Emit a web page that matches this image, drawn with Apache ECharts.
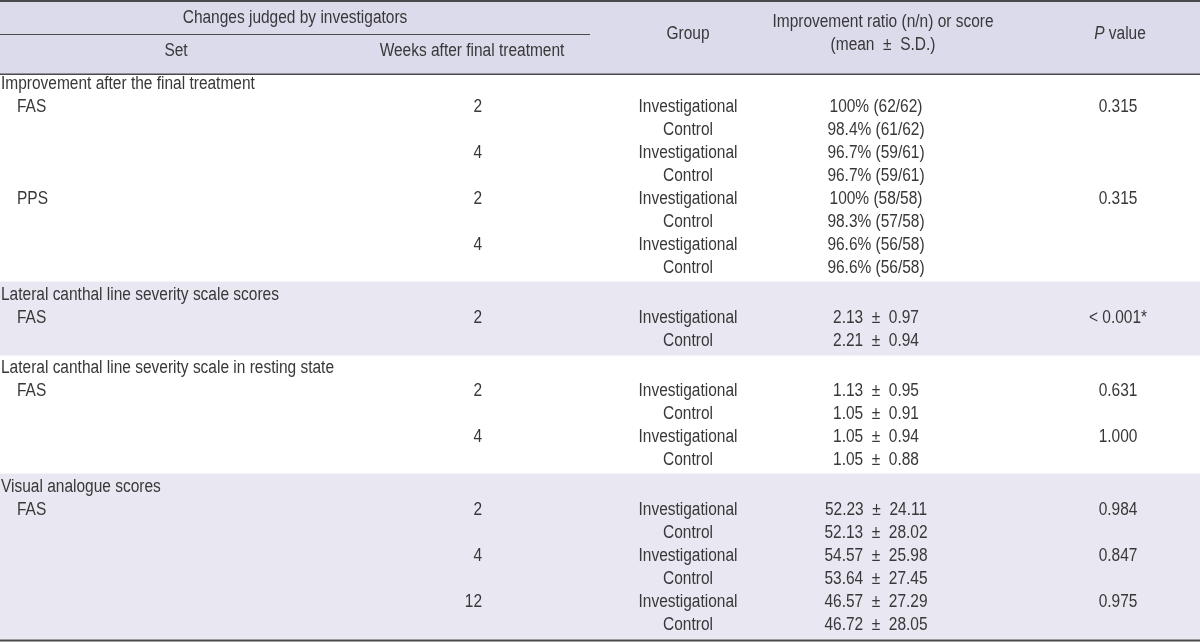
<!DOCTYPE html>
<html>
<head>
<meta charset="utf-8">
<script src="https://cdn.jsdelivr.net/npm/echarts@6/dist/echarts.min.js"></script>
<style>
html,body{margin:0;padding:0;background:#fff;}
#chart{width:1200px;height:643px;}
</style>
</head>
<body>
<div id="chart"></div>
<script>
// ---------- DATA ----------
const headerSpan = "Changes judged by investigators";
const headerCols = ["Set", "Weeks after final treatment", "Group", "Improvement ratio (n/n) or score", "(mean ± S.D.)", "P value"];
const sectionTitles = [
  "Improvement after the final treatment",
  "Lateral canthal line severity scale scores",
  "Lateral canthal line severity scale in resting state",
  "Visual analogue scores"
];
const rowSection = [0,0,0,0,0,0,0,0, 1,1, 2,2,2,2, 3,3,3,3,3,3];
const rowSet     = ["FAS","","","","PPS","","","", "FAS","", "FAS","","","", "FAS","","","","",""];
const rowWeeks   = ["2","","4","","2","","4","", "2","", "2","","4","", "2","","4","","12",""];
const rowGroup   = ["Investigational","Control","Investigational","Control","Investigational","Control","Investigational","Control",
                    "Investigational","Control",
                    "Investigational","Control","Investigational","Control",
                    "Investigational","Control","Investigational","Control","Investigational","Control"];
const rowValue   = ["100% (62/62)","98.4% (61/62)","96.7% (59/61)","96.7% (59/61)",
                    "100% (58/58)","98.3% (57/58)","96.6% (56/58)","96.6% (56/58)",
                    "2.13 ± 0.97","2.21 ± 0.94",
                    "1.13 ± 0.95","1.05 ± 0.91","1.05 ± 0.94","1.05 ± 0.88",
                    "52.23 ± 24.11","52.13 ± 28.02","54.57 ± 25.98","53.64 ± 27.45","46.57 ± 27.29","46.72 ± 28.05"];
const rowP       = ["0.315","","","","0.315","","","",
                    "< 0.001*","",
                    "0.631","","1.000","",
                    "0.984","","0.847","","0.975",""];
const shadedSections = [1, 3];

// ---------- LAYOUT / STYLE ----------
const W = 1200, H = 643;
const FONT_FAMILY = "'Liberation Sans',Arial,sans-serif";
const FONT_SIZE = 18;
const SCALE_X = 0.86;
const TEXT = '#383838';
const HEADER_BG = '#dcdbec';
const BAND_BG = '#e8e7f2';
const RULE = '#4a4a4a';
const COL = { section: 1, set: 17, weeks: 482, group: 688, value: 876, p: 1118 };
const FIRST_Y = 84, STEP = 23, GAP = 4;

// compute row positions
const sectionY = [], rowY = [];
let y = FIRST_Y;
let prevSec = -1;
for (let i = 0; i < rowSection.length; i++) {
  const s = rowSection[i];
  if (s !== prevSec) {
    if (prevSec >= 0) y += STEP + GAP;
    sectionY[s] = y;
    prevSec = s;
  }
  y += STEP;
  rowY[i] = y;
}

// ± drawn with a little extra room, as in the reference typesetting
function fmt(v) { return v.replace(' ± ', '  ±  '); }

// texts
const texts = [];
function addText(x, yy, text, align, rich) { texts.push({ pos: [x, yy], text, align, rich }); }
addText(295, 18, headerSpan, 'center');
addText(176, 51, headerCols[0], 'center');
addText(472, 51, headerCols[1], 'center');
addText(COL.group, 34, headerCols[2], 'center');
addText(883, 22, headerCols[3], 'center');
addText(883, 45, fmt(headerCols[4]), 'center');
addText(COL.p + 2, 34, '{i|' + headerCols[5].charAt(0) + '}' + headerCols[5].slice(1), 'center', true);
sectionTitles.forEach((t, s) => addText(COL.section, sectionY[s], t, 'left'));
for (let i = 0; i < rowSection.length; i++) {
  if (rowSet[i]) addText(COL.set, rowY[i], rowSet[i], 'left');
  if (rowWeeks[i]) addText(COL.weeks, rowY[i], rowWeeks[i], 'right');
  addText(COL.group, rowY[i], rowGroup[i], 'center');
  addText(COL.value, rowY[i], fmt(rowValue[i]), 'center');
  if (rowP[i]) addText(COL.p, rowY[i], rowP[i], 'center');
}

// shapes: [x1,y1,x2,y2,color]
const shapes = [];
shapes.push([0, 0, W, 74, HEADER_BG]);
shadedSections.forEach(s => {
  let last = 0;
  rowSection.forEach((rs, i) => { if (rs === s) last = rowY[i]; });
  shapes.push([0, sectionY[s] - 13.5, W, last + 14.5, BAND_BG]);
});
shapes.push([0, 0, W, 2, RULE]);
shapes.push([0, 34, 590, 35, RULE]);
shapes.push([0, 73.5, W, 75, RULE]);
shapes.push([0, 639.5, W, 641.5, RULE]);

const chart = echarts.init(document.getElementById('chart'), null, { renderer: 'canvas' });
chart.setOption({
  animation: false,
  backgroundColor: '#ffffff',
  grid: { left: 0, right: 0, top: 0, bottom: 0, containLabel: false },
  xAxis: { type: 'value', min: 0, max: W, show: false },
  yAxis: { type: 'value', min: 0, max: H, inverse: true, show: false },
  series: [
    {
      type: 'custom', clip: false, z: 1,
      data: shapes.map(s => [s[0], s[1], s[2], s[3]]),
      encode: { x: [0, 2], y: [1, 3] },
      renderItem: function (params, api) {
        const s = shapes[params.dataIndex];
        const p1 = api.coord([s[0], s[1]]);
        const p2 = api.coord([s[2], s[3]]);
        return { type: 'rect', shape: { x: p1[0], y: p1[1], width: p2[0] - p1[0], height: p2[1] - p1[1] }, style: { fill: s[4] } };
      }
    },
    {
      type: 'custom', clip: false, z: 2,
      data: texts.map(t => t.pos),
      encode: { x: 0, y: 1 },
      renderItem: function (params, api) {
        const t = texts[params.dataIndex];
        const p = api.coord([api.value(0), api.value(1)]);
        const style = {
          text: t.text, x: 0, y: 0, align: t.align, verticalAlign: 'middle',
          fill: TEXT, fontSize: FONT_SIZE, fontFamily: FONT_FAMILY
        };
        if (t.rich) style.rich = { i: { fontStyle: 'italic', fontSize: FONT_SIZE, fontFamily: FONT_FAMILY, fill: TEXT } };
        return { type: 'text', x: p[0], y: p[1], scaleX: SCALE_X, scaleY: 1, style: style };
      }
    }
  ]
});
</script>
</body>
</html>
